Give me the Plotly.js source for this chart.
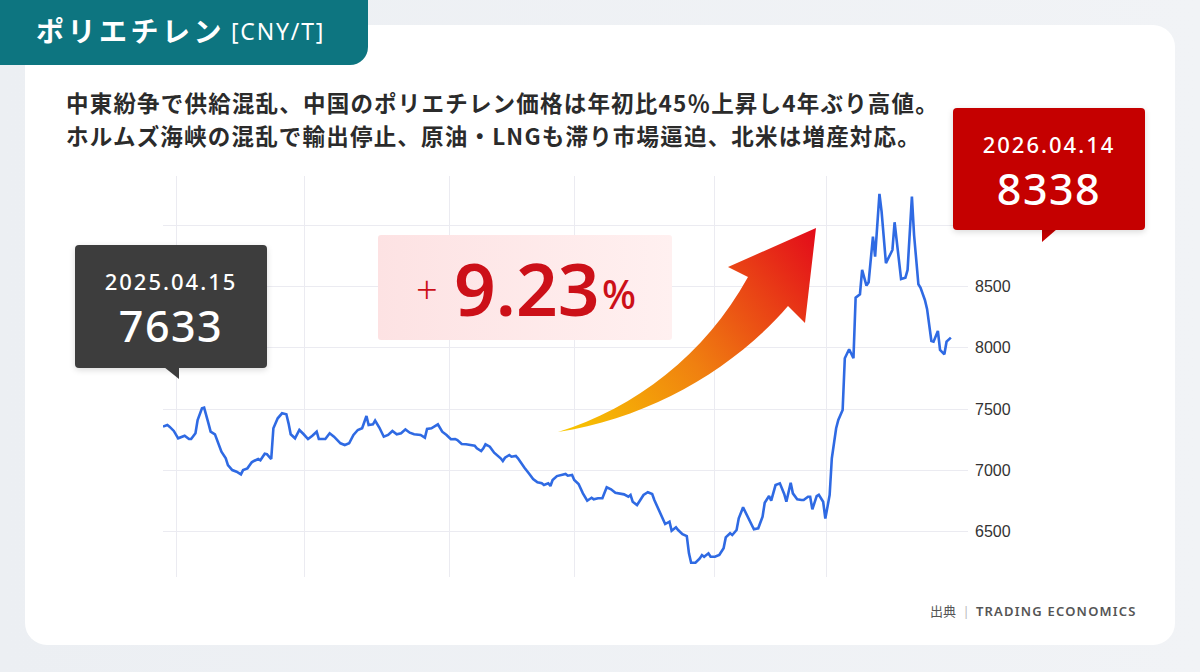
<!DOCTYPE html>
<html>
<head>
<meta charset="utf-8">
<script src="https://cdn.plot.ly/plotly-3.0.1.min.js"></script>
<style>
  html, body { margin: 0; padding: 0; }
  body { width: 1200px; height: 672px; overflow: hidden; position: relative;
         background: linear-gradient(90deg, #eceff3 0%, #f1f3f6 100%);
         font-family: "Noto Sans CJK JP", "Noto Sans", sans-serif; }
  #card { position: absolute; left: 25px; top: 25px; width: 1150px; height: 620px;
          background: #ffffff; border-radius: 22px; z-index: 1; }
  #tab { position: absolute; left: 0; top: 0; width: 368px; height: 65px; background: #0d7580;
         border-bottom-right-radius: 18px; z-index: 4; color: #fff; }
  #tab .t1 { position: absolute; left: 36px; top: 10px; font-size: 28px; font-weight: 700; letter-spacing: 3.5px; }
  #tab .t2 { position: absolute; left: 231px; top: 15px; font-size: 23px; font-weight: 400; font-family: "Noto Sans", sans-serif; letter-spacing: 1.8px; }
  #sub { position: absolute; left: 66px; top: 86px; z-index: 4; color: #2b2b2b; font-size: 22.5px;
         font-weight: 700; letter-spacing: 1.2px; line-height: 33px; white-space: nowrap; }
  #plot { position: absolute; left: 0; top: 0; width: 1200px; height: 672px; z-index: 2; }
  .callout { position: absolute; z-index: 5; color: #fff; text-align: center; border-radius: 4px;
             font-family: "Noto Sans", sans-serif; }
  .callout .d { position: absolute; left: 0; right: 0; font-size: 22px; letter-spacing: 2px; font-weight: 500; }
  .callout .v { position: absolute; left: 0; right: 0; font-size: 43px; font-weight: 500; letter-spacing: 1.5px; }
  #c1 { left: 75px; top: 245px; width: 192px; height: 123px; background: #3d3d3d; box-shadow: 0 2px 6px rgba(0,0,0,0.15); }
  #c2 { left: 953px; top: 108px; width: 192px; height: 122px; background: #c50000; box-shadow: 0 2px 6px rgba(0,0,0,0.15); }
  #pct { position: absolute; left: 378px; top: 235px; width: 294px; height: 105px; z-index: 5;
         background: linear-gradient(90deg, #fde2e3 0%, #fff0f0 100%); border-radius: 3px;
         color: #cc1018; font-family: "Noto Sans", sans-serif; }
  #pct span { position: absolute; }
  #src { position: absolute; left: 930px; top: 601px; z-index: 4; font-size: 13px; color: #555;
         font-family: "Noto Sans", "Noto Sans CJK JP", sans-serif; white-space: nowrap; }
  #arrow { position: absolute; left: 0; top: 0; z-index: 4; pointer-events: none; }
</style>
</head>
<body>
<div id="card"></div>
<div id="tab"><span class="t1">ポリエチレン</span><span class="t2">[CNY/T]</span></div>
<div id="sub">中東紛争で供給混乱、中国のポリエチレン価格は年初比45％上昇し4年ぶり高値。<br>ホルムズ海峡の混乱で輸出停止、原油・LNGも滞り市場逼迫、北米は増産対応。</div>
<div id="plot"></div>
<svg id="arrow" width="1200" height="672">
  <defs>
    <linearGradient id="ag" gradientUnits="userSpaceOnUse" x1="560" y1="432" x2="816" y2="228">
      <stop offset="0" stop-color="#f8c800"/>
      <stop offset="0.45" stop-color="#f08010"/>
      <stop offset="1" stop-color="#e30a1a"/>
    </linearGradient>
  </defs>
  <path d="M558,432 C635,408 705,355 748,277 L728,267 L816,228 L805,323 L788,306 C735,368 650,418 558,432 Z" fill="url(#ag)"/>
</svg>
<div class="callout" id="c1"><div class="d" style="top:21px">2025.04.15</div><div class="v" style="top:51px">7633</div></div>
<svg style="position:absolute;left:0;top:0;z-index:5;pointer-events:none" width="1200" height="672">
  <polygon points="164,367 179,367 179,379" fill="#3d3d3d"/>
  <polygon points="1042,229 1057,229 1042,242" fill="#c50000"/>
</svg>
<div class="callout" id="c2"><div class="d" style="top:21px">2026.04.14</div><div class="v" style="top:51px">8338</div></div>
<div id="pct"><span style="left:38px;top:28px;font-size:38px;font-weight:300;">+</span><span style="left:76px;top:3px;font-size:73px;font-weight:600;letter-spacing:0px;">9.23</span><span style="left:224px;top:31px;font-size:40px;font-weight:500;">%</span></div>
<div id="src">出典 <span style="color:#bbb;margin:0 3px;">|</span> <span style="letter-spacing:1.2px;font-weight:600;color:#555;">TRADING ECONOMICS</span></div>

<script>
const dates = [
"2025-04-15","2025-04-17","2025-04-18","2025-04-20","2025-04-22","2025-04-23","2025-04-25","2025-04-27","2025-04-28","2025-04-30",
"2025-05-01","2025-05-03","2025-05-04","2025-05-06","2025-05-07","2025-05-09","2025-05-10","2025-05-12","2025-05-14","2025-05-15",
"2025-05-17","2025-05-19","2025-05-21","2025-05-22","2025-05-24","2025-05-26","2025-05-27","2025-05-29","2025-05-30","2025-06-01",
"2025-06-02","2025-06-04","2025-06-05","2025-06-07","2025-06-09","2025-06-11","2025-06-12","2025-06-13","2025-06-15","2025-06-17",
"2025-06-19","2025-06-21","2025-06-23","2025-06-25","2025-06-26","2025-06-29","2025-07-01","2025-07-03","2025-07-06","2025-07-08",
"2025-07-10","2025-07-12","2025-07-14","2025-07-16","2025-07-18","2025-07-19","2025-07-21","2025-07-22","2025-07-24","2025-07-26",
"2025-07-28","2025-07-30","2025-08-01","2025-08-03","2025-08-05","2025-08-07","2025-08-09","2025-08-12","2025-08-14","2025-08-15",
"2025-08-17","2025-08-20","2025-08-22","2025-08-24","2025-08-26","2025-08-28","2025-08-29","2025-08-31","2025-09-02","2025-09-04",
"2025-09-06","2025-09-07","2025-09-09","2025-09-10","2025-09-11","2025-09-13","2025-09-15","2025-09-18","2025-09-19","2025-09-20",
"2025-09-22","2025-09-23","2025-09-25","2025-09-26","2025-09-28","2025-09-29","2025-10-01","2025-10-03","2025-10-05","2025-10-07",
"2025-10-08","2025-10-10","2025-10-11","2025-10-12","2025-10-14","2025-10-16","2025-10-18","2025-10-19","2025-10-21","2025-10-22",
"2025-10-24","2025-10-26","2025-10-28","2025-10-30","2025-10-31","2025-11-02","2025-11-04","2025-11-06","2025-11-08","2025-11-10",
"2025-11-12","2025-11-14","2025-11-16","2025-11-17","2025-11-18","2025-11-20","2025-11-21","2025-11-23","2025-11-25","2025-11-27",
"2025-11-28","2025-11-30","2025-12-02","2025-12-03","2025-12-05","2025-12-06","2025-12-08","2025-12-09","2025-12-11","2025-12-13",
"2025-12-14","2025-12-15","2025-12-17","2025-12-19","2025-12-20","2025-12-21","2025-12-23","2025-12-24","2025-12-26","2025-12-28",
"2025-12-30","2025-12-31","2026-01-02","2026-01-03","2026-01-05","2026-01-06","2026-01-08","2026-01-10","2026-01-11","2026-01-13",
"2026-01-15","2026-01-17","2026-01-18","2026-01-20","2026-01-21","2026-01-22","2026-01-23","2026-01-25","2026-01-27","2026-01-28",
"2026-01-30","2026-01-31","2026-02-02","2026-02-04","2026-02-05","2026-02-07","2026-02-08","2026-02-09","2026-02-11","2026-02-12",
"2026-02-14","2026-02-15","2026-02-17","2026-02-18","2026-02-20","2026-02-21","2026-02-23","2026-02-24","2026-02-26","2026-02-28",
"2026-03-01","2026-03-03","2026-03-04","2026-03-06","2026-03-07","2026-03-09","2026-03-10","2026-03-12","2026-03-13","2026-03-15",
"2026-03-16","2026-03-18","2026-03-19","2026-03-21","2026-03-22","2026-03-24","2026-03-25","2026-03-27","2026-03-28","2026-03-30",
"2026-03-31","2026-04-02","2026-04-03","2026-04-05","2026-04-06","2026-04-08","2026-04-09","2026-04-11","2026-04-12","2026-04-14"
];
const prices = [
7356,7370,7356,7321,7261,7266,7282,7255,7255,7302,
7410,7506,7511,7383,7315,7294,7247,7152,7098,7043,
7002,6989,6967,7002,7016,7065,7076,7092,7082,7135,
7131,7092,7343,7424,7465,7457,7383,7294,7261,7329,
7294,7255,7282,7315,7255,7255,7302,7274,7220,7206,
7220,7288,7329,7343,7443,7370,7375,7405,7347,7274,
7288,7321,7294,7302,7334,7307,7294,7288,7266,7337,
7343,7375,7315,7288,7253,7255,7247,7215,7212,7206,
7201,7179,7157,7179,7212,7193,7144,7098,7076,7103,
7125,7111,7117,7098,7043,7021,6976,6929,6902,6894,
6880,6894,6872,6921,6953,6962,6970,6956,6962,6921,
6888,6812,6752,6776,6763,6772,6772,6861,6845,6817,
6812,6804,6785,6799,6744,6717,6744,6799,6821,6807,
6758,6676,6608,6562,6581,6507,6535,6513,6480,6464,
6323,6246,6246,6282,6309,6295,6323,6295,6295,6309,
6364,6453,6486,6472,6513,6608,6698,6627,6595,6519,
6527,6622,6736,6790,6752,6825,6880,6894,6807,6744,
6899,6812,6763,6758,6758,6785,6785,6682,6790,6801,
6744,6607,6799,7098,7343,7410,7492,7914,7987,7914,
8408,8436,8634,8506,8534,8905,8742,9254,9109,8689,
8729,8797,9023,8702,8560,8571,8634,9232,8919,8517,
8489,8389,8316,8055,8049,8136,7981,7946,8049,8082
];
const yTicks = [6500, 7000, 7500, 8000, 8500, 9000];
const yTickText = ["6500", "7000", "7500", "8000", "8500", ""];
const xGrid = ["2025-04-21 08:00","2025-06-19 12:00","2025-08-25 12:00","2025-10-22","2025-12-26","2026-02-15 16:00","2026-04-21 18:00"];

const trace = {
  x: dates, y: prices, type: 'scatter', mode: 'lines',
  line: { color: '#2f6ae3', width: 2.6, shape: 'linear' },
  hoverinfo: 'skip'
};
const layout = {
  width: 1200, height: 672,
  margin: { l: 163, r: 232, t: 176, b: 95, pad: 0 },
  paper_bgcolor: 'rgba(0,0,0,0)', plot_bgcolor: 'rgba(0,0,0,0)',
  showlegend: false,
  xaxis: {
    type: 'date', range: ['2025-04-15', '2026-04-21 22:00'],
    tickmode: 'array', tickvals: xGrid, showticklabels: false,
    showgrid: true, gridcolor: '#ebebf1', gridwidth: 1,
    zeroline: false, showline: false, ticks: ''
  },
  yaxis: {
    side: 'right', range: [6130, 9400],
    tickmode: 'array', tickvals: yTicks, ticktext: yTickText,
    showgrid: true, gridcolor: '#ebebf1', gridwidth: 1,
    zeroline: false, showline: false, ticks: '',
    ticklabelstandoff: 6,
    tickfont: { family: 'Liberation Sans, Arial, sans-serif', size: 16, color: '#333333' }
  }
};
Plotly.newPlot('plot', [trace], layout, { staticPlot: true, displayModeBar: false });
</script>
</body>
</html>
